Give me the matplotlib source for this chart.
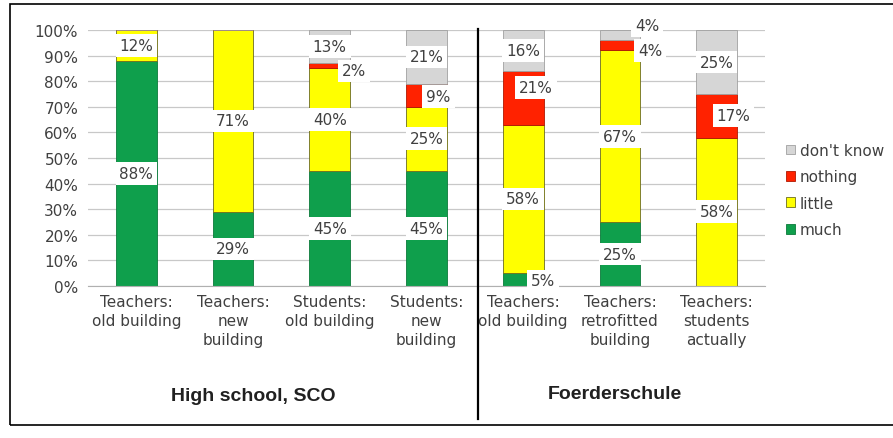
import matplotlib.pyplot as plt
from matplotlib.patches import Patch, Rectangle
from matplotlib.lines import Line2D

plt.rcParams["font.family"] = ["DejaVu Sans"]

categories = [
    "Teachers:\nold building",
    "Teachers:\nnew\nbuilding",
    "Students:\nold building",
    "Students:\nnew\nbuilding",
    "Teachers:\nold building",
    "Teachers:\nretrofitted\nbuilding",
    "Teachers:\nstudents\nactually",
]
groups = ["High school, SCO", "Foerderschule"]

much = [88, 29, 45, 45, 5, 25, 0]
little = [12, 71, 40, 25, 58, 67, 58]
nothing = [0, 0, 2, 9, 21, 4, 17]
dont_know = [0, 0, 13, 21, 16, 4, 25]

series = [
    ("much", much, "#0f9f4c", "#0b7a3a"),
    ("little", little, "#ffff00", "#6b6b20"),
    ("nothing", nothing, "#ff2200", "#b01800"),
    ("don't know", dont_know, "#d6d6d6", "#a0a0a0"),
]

# hand-moved labels in the original: (bar, series) -> (dx pixels, dy percent)
nudges = {
    (2, 2): (24, -2),
    (3, 2): (12, -0.5),
    (4, 2): (13, 4),
    (4, 0): (20, -0.5),
    (5, 3): (27, 3.6),
    (5, 2): (30, -2),
    (6, 2): (17, 0),
}

fig = plt.figure(figsize=(8.93, 4.39), dpi=100)
ax = fig.add_axes([88 / 893, (439 - 287) / 439, 677 / 893, 256 / 439])

txt = "#404040"
x = list(range(len(categories)))
bottom = [0] * len(categories)
for si, (name, vals, face, edge) in enumerate(series):
    ax.bar(x, vals, width=0.42, bottom=bottom, color=face, edgecolor=edge,
           linewidth=0.6, zorder=2)
    for i, v in enumerate(vals):
        if v == 0:
            continue
        dx, dy = nudges.get((i, si), (0, 0))
        ax.annotate(f"{v}%", (i, bottom[i] + v / 2 + dy), xytext=(dx * 0.72, 0),
                    textcoords="offset points", ha="center", va="center",
                    fontsize=11, color=txt, zorder=4, annotation_clip=False,
                    bbox=dict(boxstyle="square,pad=0.25", fc="white", ec="none"))
    bottom = [b + v for b, v in zip(bottom, vals)]

ax.set_xlim(-0.5, 6.5)
ax.set_ylim(0, 100)
ax.set_yticks(range(0, 101, 10))
ax.set_yticklabels([f"{t}%" for t in range(0, 101, 10)], fontsize=11, color=txt)
ax.set_xticks(x)
ax.set_xticklabels(categories, fontsize=11, color=txt, linespacing=1.3)
ax.tick_params(axis="x", length=0, pad=6)
ax.tick_params(axis="y", length=0, pad=7)
ax.yaxis.grid(True, color="#c8c8c8", linewidth=0.9, zorder=0)
ax.set_axisbelow(True)
for s in ["top", "right", "left"]:
    ax.spines[s].set_visible(False)
ax.spines["bottom"].set_color("#b0b0b0")

# separator between the two schools
fig.add_artist(Line2D([478 / 893, 478 / 893], [1 - 30 / 439, 1 - 420 / 439],
                      color="black", linewidth=1.6))
fig.text(253 / 893, 1 - 397 / 439, groups[0], ha="center", va="center",
         fontsize=14, fontweight="bold", color="#202020",
         family=["Liberation Sans"])
fig.text(615 / 893, 1 - 395 / 439, groups[1], ha="center", va="center",
         fontsize=14, fontweight="bold", color="#202020",
         family=["Liberation Sans"])

# frame around the whole picture
fig.add_artist(Rectangle((10 / 893, 1 - 426 / 439), 1.0, 421 / 439,
                         fill=False, edgecolor="black", linewidth=1.2,
                         transform=fig.transFigure))

handles = [Patch(facecolor=f, edgecolor=e, linewidth=0.6, label=n)
           for n, _, f, e in series[::-1]]
fig.legend(handles=handles, loc="center left",
           bbox_to_anchor=(772 / 893, 1 - 191 / 439), frameon=False,
           fontsize=11, labelcolor=txt, handlelength=0.6, handleheight=0.6,
           handletextpad=0.3, labelspacing=0.75)

fig.savefig("out.png", dpi=100)
